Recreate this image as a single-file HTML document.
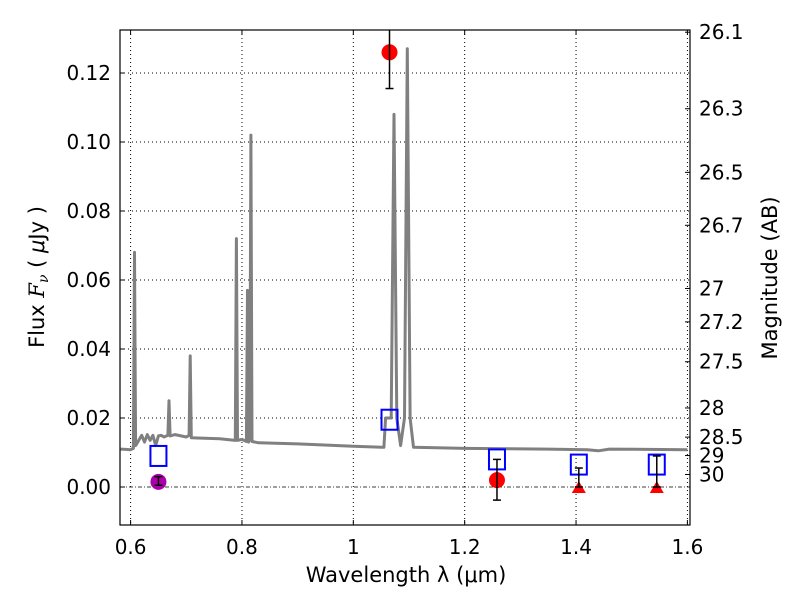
<!DOCTYPE html>
<html><head><meta charset="utf-8"><style>
body{margin:0;background:#fff}
svg{font-family:"DejaVu Sans","Liberation Sans",sans-serif}
</style></head><body>
<svg id="chart" width="800" height="600">
<rect width="800" height="600" fill="#fff"/>
<g id="grid"></g><g id="marks"></g><g id="axes"></g>
</svg>
<script>
const specWave=[0.582,0.600,0.605,0.607,0.609,0.611,0.620,0.625,0.630,0.635,0.640,0.645,0.650,0.655,0.660,0.667,0.669,0.671,0.680,0.700,0.705,0.707,0.709,0.720,0.760,0.788,0.790,0.792,0.800,0.808,0.810,0.812,0.814,0.816,0.818,0.830,0.900,1.000,1.055,1.058,1.068,1.073,1.078,1.085,1.092,1.097,1.102,1.108,1.200,1.350,1.420,1.440,1.460,1.600];
const specFlux=[0.011,0.0108,0.0112,0.068,0.012,0.0125,0.015,0.013,0.0152,0.0135,0.015,0.012,0.0148,0.015,0.0145,0.015,0.025,0.0148,0.0152,0.0145,0.015,0.038,0.0143,0.0142,0.014,0.0135,0.072,0.0135,0.0138,0.0132,0.057,0.013,0.014,0.102,0.0132,0.0128,0.0125,0.0118,0.0115,0.02,0.02,0.108,0.02,0.012,0.02,0.127,0.02,0.0115,0.0112,0.011,0.0108,0.0105,0.011,0.0108];
const sqWave=[0.65,1.065,1.258,1.405,1.545];
const sqFlux=[0.009,0.0195,0.008,0.0065,0.0065];
const redWave=[1.065,1.258];
const redFlux=[0.126,0.002];
const redErrLo=[0.1155,-0.0038];
const redErrHi=[0.14,0.008];
const magWave=[0.65];
const magFlux=[0.0015];
const magErrLo=[0.0005];
const magErrHi=[0.003];
const triWave=[1.405,1.545];
const triFlux=[0,0];
const triErrHi=[0.0055,0.009];
const xTicks=[0.6,0.8,1.0,1.2,1.4,1.6];
const xTickLabels=["0.6","0.8","1","1.2","1.4","1.6"];
const yTicks=[0,0.02,0.04,0.06,0.08,0.10,0.12];
const yTickLabels=["0.00","0.02","0.04","0.06","0.08","0.10","0.12"];
const magTicks=[26.1,26.3,26.5,26.7,27,27.2,27.5,28,28.5,29,30];

const L=120,R=690,T=30,B=525;
const x=v=>130.6+(v-0.6)*556.8;
const y=v=>487-v*3450;
const NS="http://www.w3.org/2000/svg";
function mk(tag,attrs,parent,text){const e=document.createElementNS(NS,tag);for(const k in attrs)e.setAttribute(k,attrs[k]);if(text!==undefined)e.textContent=text;parent.appendChild(e);return e;}
const grid=document.getElementById('grid'),marks=document.getElementById('marks'),axes=document.getElementById('axes');

xTicks.forEach((t,i)=>{
 const g=mk('line',{x1:x(t),x2:x(t),y1:T,y2:B,stroke:'#000','stroke-dasharray':'1,3','stroke-width':1},grid);
 
 mk('line',{x1:x(t),x2:x(t),y1:B,y2:B-5,stroke:'#000'},axes);
 mk('line',{x1:x(t),x2:x(t),y1:T,y2:T+5,stroke:'#000'},axes);
 const tl=mk('text',{x:x(t),y:B+29,'text-anchor':'middle','font-size':20},axes,xTickLabels[i]);
 
});
yTicks.forEach((t,i)=>{
 if(t!==0){const g=mk('line',{x1:L,x2:R,y1:y(t),y2:y(t),stroke:'#000','stroke-dasharray':'1,3'},grid);
 }
 mk('line',{x1:L,x2:L+5,y1:y(t),y2:y(t),stroke:'#000'},axes);
 const tl=mk('text',{x:L-9,y:y(t)+7,'text-anchor':'end','font-size':20},axes,yTickLabels[i]);
 
});
const zl=mk('line',{x1:L,x2:R,y1:y(0),y2:y(0),stroke:'#000','stroke-dasharray':'4,2,1,2','stroke-width':0.8},grid);


let d='';specWave.forEach((w,i)=>{d+=(i?'L':'M')+x(w).toFixed(1)+','+y(specFlux[i]).toFixed(1);});
const sp=mk('path',{d:d,fill:'none',stroke:'#808080','stroke-width':3,'stroke-linejoin':'round'},marks);


function err(xx,lo,hi){const g=mk('g',{stroke:'#000','stroke-width':1.5},marks);
 
 mk('line',{x1:xx,x2:xx,y1:Math.max(y(hi),T),y2:y(lo)},g);
 if(y(hi)>T)mk('line',{x1:xx-4,x2:xx+4,y1:y(hi),y2:y(hi)},g);
 mk('line',{x1:xx-4,x2:xx+4,y1:y(lo),y2:y(lo)},g);}

sqWave.forEach((w,i)=>{const r=mk('rect',{x:x(w)-8,y:y(sqFlux[i])-10,width:16,height:20,fill:'none',stroke:'#0000ff','stroke-width':2},marks);
 });
magWave.forEach((w,i)=>{const c=mk('circle',{cx:x(w),cy:y(magFlux[i]),r:8,fill:'#aa00aa'},marks);
 err(x(w),magErrLo[i],magErrHi[i]);});
redWave.forEach((w,i)=>{const c=mk('circle',{cx:x(w),cy:y(redFlux[i]),r:8,fill:'#ff0000'},marks);
 err(x(w),redErrLo[i],redErrHi[i]);});
triWave.forEach((w,i)=>{const cx=x(w),cy=y(triFlux[i]);
 const p=mk('polygon',{points:`${cx-7},${cy+6} ${cx+7},${cy+6} ${cx},${cy-6}`,fill:'#ff0000'},marks);
 
 err(cx,triFlux[i],triErrHi[i]);});

const fr=mk('rect',{x:L,y:T,width:R-L,height:B-T,fill:'none',stroke:'#000','stroke-width':1.2},axes);

magTicks.forEach(m=>{const f=Math.pow(10,(23.9-m)/2.5);const yy=y(f);
 mk('line',{x1:R,x2:R-5,y1:yy,y2:yy,stroke:'#000'},axes);
 const tl=mk('text',{x:R+9,y:yy+7,'font-size':20},axes,String(m));
 });

let t=mk('text',{x:406,y:582,'text-anchor':'middle','font-size':21},axes,'Wavelength  λ (μm)');

t=mk('text',{transform:'translate(44,277) rotate(-90)','text-anchor':'middle','font-size':21},axes);
t.innerHTML='Flux  <tspan font-family="DejaVu Serif, serif" font-style="italic">F</tspan><tspan font-family="DejaVu Serif, serif" font-style="italic" font-size="14" dy="4">ν</tspan><tspan dy="-4">  ( </tspan><tspan font-style="italic">μ</tspan>Jy )';

t=mk('text',{transform:'translate(777,278) rotate(-90)','text-anchor':'middle','font-size':21},axes,'Magnitude (AB)');

</script>
</body></html>
